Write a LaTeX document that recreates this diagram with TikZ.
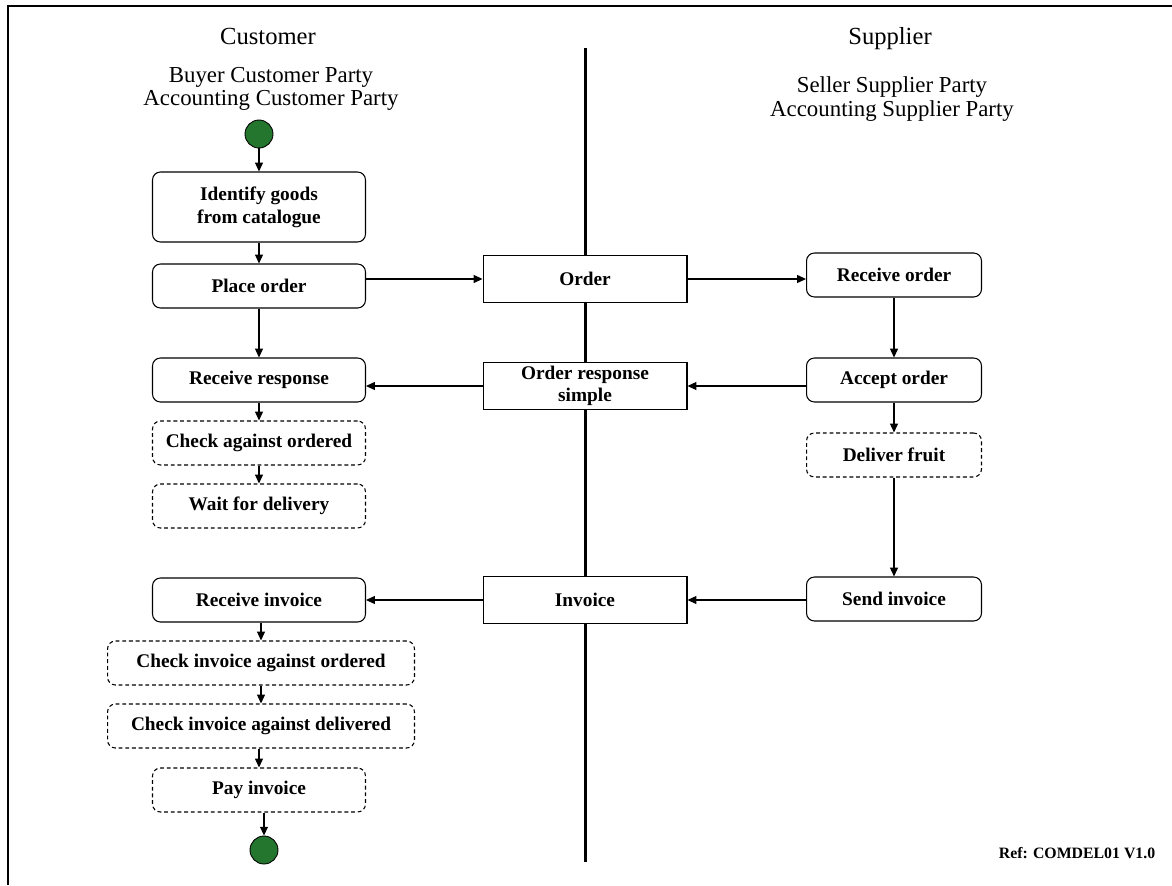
\documentclass[tikz,border=0pt]{standalone}
\usepackage{fontspec}
\setmainfont{Liberation Serif}
\usepackage{xcolor}
\usetikzlibrary{arrows.meta,positioning}

\definecolor{startgreen}{RGB}{36,117,46}

\tikzset{
  act/.style={draw, rounded corners=4.5pt, fill=white, line width=0.6pt,
    minimum width=4.26cm, minimum height=0.88cm, inner sep=2pt, align=center,
    font=\fontsize{11}{13}\selectfont\bfseries},
  optact/.style={act, dash pattern=on 2.2pt off 1.6pt},
  message/.style={draw, fill=white, line width=0.6pt, minimum width=4.08cm,
    minimum height=0.94cm, inner sep=1pt, align=center,
    font=\fontsize{11}{12.5}\selectfont\bfseries},
  terminal/.style={circle, draw, fill=startgreen, line width=0.5pt,
    minimum size=0.56cm, inner sep=0pt},
  flow/.style={-{Triangle[length=5pt,width=4.5pt]}, line width=0.6pt},
  lane/.style={font=\fontsize{14}{16}\selectfont, anchor=base},
  party/.style={font=\fontsize{13}{13.5}\selectfont, align=center}
}

\begin{document}
\begin{tikzpicture}[x=0.02cm, y=-0.02cm]
    \useasboundingbox (0,0) rectangle (1172,885);
    \draw[line width=1.2pt] (8,885) -- (8,6) -- (1172,6);
    \draw[line width=1.7pt] (585,48) -- (585,862);

    % Swimlane headings
    \node[lane] (cust) at (268,45) {Customer};
    \node[party] (custparty) at (271,89) {Buyer Customer Party\\Accounting Customer Party};
    \node[lane] (supp) at (890,45) {Supplier};
    \node[party] (suppparty) at (892,99) {Seller Supplier Party\\Accounting Supplier Party};

    % Customer activities
    \node[terminal] (start) at (259,134) {};
    \node[act, minimum height=1.4cm] (identify) at (259,207) {Identify goods\\from catalogue};
    \node[act] (place) at (259,286) {Place order};
    \node[act] (recresp) at (259,380) {Receive response};
    \node[optact] (checkord) at (259,443) {Check against ordered};
    \node[optact] (wait) at (259,506) {Wait for delivery};
    \node[act] (recinv) at (259,600) {Receive invoice};
    \node[optact, minimum width=6.14cm] (checkinvord) at (261,663) {Check invoice against ordered};
    \node[optact, minimum width=6.14cm] (checkinvdel) at (261,726) {Check invoice against delivered};
    \node[optact] (pay) at (259,790) {Pay invoice};
    \node[terminal] (stop) at (264,850) {};

    % Documents
    \node[message] (order) at (585,279) {Order};
    \node[message] (resp) at (585,386) {Order response\\simple};
    \node[message] (invoice) at (585,600) {Invoice};

    % Supplier activities
    \node[act, minimum width=3.5cm] (recorder) at (894,275) {Receive order};
    \node[act, minimum width=3.5cm] (accept) at (894,380) {Accept order};
    \node[optact, minimum width=3.5cm] (deliver) at (894,455) {Deliver fruit};
    \node[act, minimum width=3.5cm] (sendinv) at (894,599) {Send invoice};

    \node[font=\fontsize{9}{10}\selectfont\bfseries] (ref) at (1077,853) {Ref: COMDEL01 V1.0};

    % Flows
    \draw[flow] (start) -- (identify.north -| start);
    \draw[flow] (identify.south -| start) -- (place);
    \draw[flow] (place) -- (recresp);
    \draw[flow] (recresp) -- (checkord);
    \draw[flow] (checkord.south -| wait) -- (wait);
    \draw[flow] (recinv.south -| checkinvord) -- (checkinvord);
    \draw[flow] (checkinvord) -- (checkinvdel);
    \draw[flow] (checkinvdel.south -| pay) -- (pay);
    \draw[flow] (pay.south -| stop) -- (stop);

    \draw[flow] (place.east |- order) -- (order);
    \draw[flow] (order) -- (recorder.west |- order);
    \draw[flow] (recorder) -- (accept);
    \draw[flow] (accept.west |- resp) -- (resp);
    \draw[flow] (resp) -- (recresp.east |- resp);
    \draw[flow] (accept) -- (deliver);
    \draw[flow] (deliver) -- (sendinv);
    \draw[flow] (sendinv.west |- invoice) -- (invoice);
    \draw[flow] (invoice) -- (recinv);
\end{tikzpicture}
\end{document}
